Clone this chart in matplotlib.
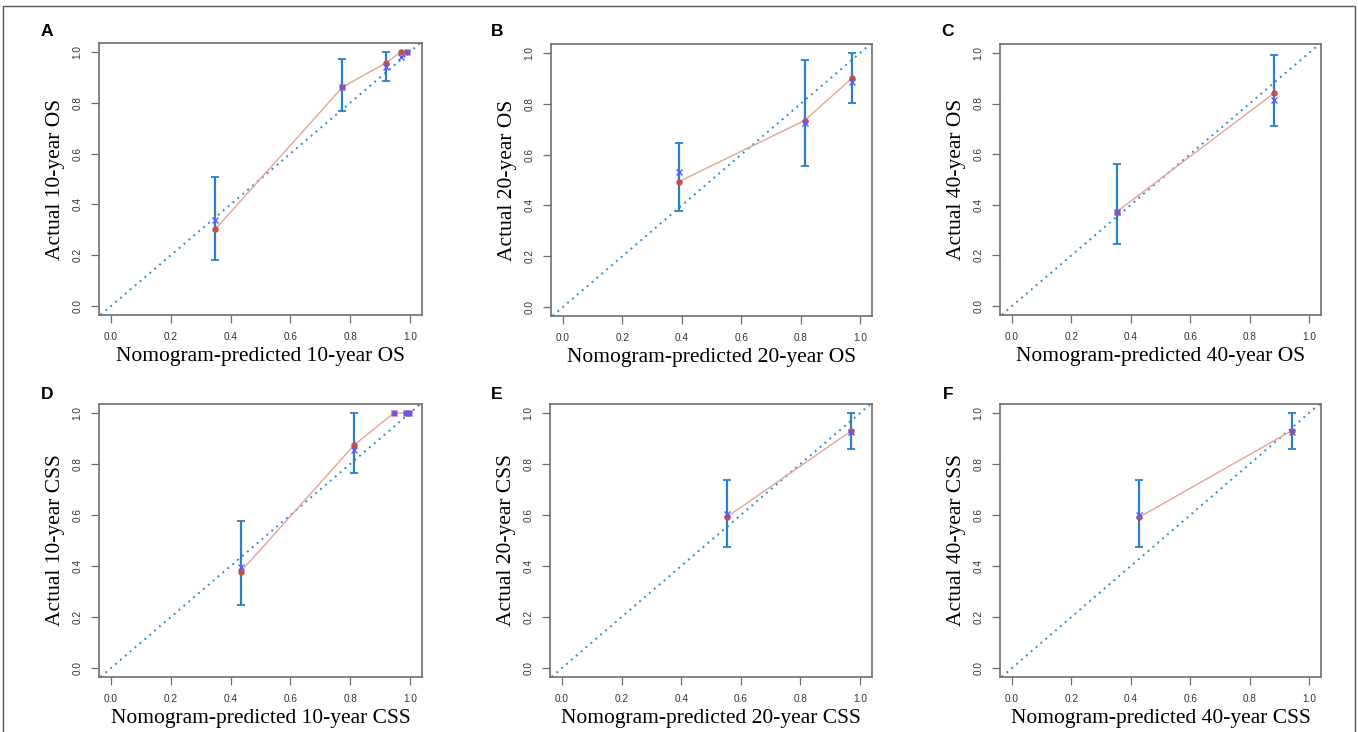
import matplotlib
matplotlib.use("Agg")
import matplotlib.pyplot as plt
from matplotlib.patches import Rectangle
import numpy as np

W, H = 1358, 732

# panel data: predicted, observed (red), bias-corrected (blue x), CI low / high
pred = {
    "A": [0.349, 0.774, 0.921, 0.970, 0.989],
    "B": [0.391, 0.813, 0.974],
    "C": [0.352, 0.881],
    "D": [0.434, 0.813, 0.946, 0.988, 0.998],
    "E": [0.553, 0.971],
    "F": [0.429, 0.941],
}
obs = {
    "A": [0.303, 0.861, 0.958, 1.0, 1.0],
    "B": [0.494, 0.734, 0.902],
    "C": [0.372, 0.840],
    "D": [0.378, 0.874, 1.0, 1.0, 1.0],
    "E": [0.592, 0.930],
    "F": [0.592, 0.930],
}
corr = {
    "A": [0.339, 0.860, 0.940, 0.979, 1.0],
    "B": [0.531, 0.723, 0.886],
    "C": [0.370, 0.815],
    "D": [0.397, 0.855, 1.0, 1.0, 1.0],
    "E": [0.604, 0.926],
    "F": [0.600, 0.926],
}
ci_lo = {
    "A": [0.182, 0.768, 0.886, None, None],
    "B": [0.378, 0.555, 0.804],
    "C": [0.245, 0.710],
    "D": [0.246, 0.764, None, None, None],
    "E": [0.473, 0.857],
    "F": [0.473, 0.857],
}
ci_hi = {
    "A": [0.508, 0.971, 1.0, None, None],
    "B": [0.646, 0.974, 1.0],
    "C": [0.563, 0.992],
    "D": [0.578, 1.0, None, None, None],
    "E": [0.738, 1.0],
    "F": [0.738, 1.0],
}
xlabels = {
    "A": "Nomogram-predicted 10-year OS", "B": "Nomogram-predicted 20-year OS",
    "C": "Nomogram-predicted 40-year OS", "D": "Nomogram-predicted 10-year CSS",
    "E": "Nomogram-predicted 20-year CSS", "F": "Nomogram-predicted 40-year CSS",
}
ylabels = {
    "A": "Actual 10-year OS", "B": "Actual 20-year OS", "C": "Actual 40-year OS",
    "D": "Actual 10-year CSS", "E": "Actual 20-year CSS", "F": "Actual 40-year CSS",
}
ticks = [0.0, 0.2, 0.4, 0.6, 0.8, 1.0]
tick_labels = ["0.0", "0.2", "0.4", "0.6", "0.8", "1.0"]

# axes boxes in pixels: left, top, right, bottom
boxes = {
    "A": (99, 43, 422, 315), "B": (551, 44, 872, 316), "C": (1000, 44, 1321, 315),
    "D": (99, 404, 422, 677), "E": (550, 404, 872, 677), "F": (1000, 404, 1321, 677),
}
letter_pos = {"A": (47, 32), "B": (497, 32), "C": (948, 32),
              "D": (47, 394), "E": (497, 394), "F": (948, 394)}

ERR = "#2a80c8"
DIAG = "#2f8bd0"
RED_LINE = "#e6a396"
RED_DOT = "#c0504d"
BLUE_X = "#5a5aff"
FRAME = "#6e6e6e"

fig = plt.figure(figsize=(W / 100, H / 100), dpi=100)

for key, (l, t, r, b) in boxes.items():
    ax = fig.add_axes([l / W, 1 - b / H, (r - l) / W, (b - t) / H])
    ax.set_xlim(-0.04, 1.04)
    ax.set_ylim(-0.035, 1.035)
    ax.plot([-0.1, 1.1], [-0.1, 1.1], color=DIAG, lw=1.4, linestyle=(0, (1, 2.3)))

    x = np.array(pred[key])
    ax.plot(x, obs[key], color=RED_LINE, lw=1.0, zorder=3)
    for xi, o, lo, hi in zip(x, obs[key], ci_lo[key], ci_hi[key]):
        if lo is None:
            continue
        ax.errorbar([xi], [o], yerr=[[o - lo], [hi - o]], fmt="none",
                    ecolor=ERR, elinewidth=1.6, capsize=3.2, capthick=1.3, zorder=4)
    ax.plot(x, obs[key], "o", color=RED_DOT, ms=3.6, zorder=5)
    ax.plot(x, corr[key], "x", color=BLUE_X, ms=5, mew=1.0, zorder=6)

    ax.set_xticks(ticks)
    ax.set_xticklabels(tick_labels)
    ax.set_yticks(ticks)
    ax.set_yticklabels(tick_labels, rotation=90, va="center")
    ax.tick_params(length=6, width=0.9, color=FRAME, labelsize=7.2, pad=6,
                   labelcolor="#333333")
    for lab in ax.get_xticklabels() + ax.get_yticklabels():
        lab.set_family("Liberation Sans")
    for s in ax.spines.values():
        s.set_color(FRAME)
        s.set_linewidth(1.2)

    ax.set_xlabel(xlabels[key], family="Liberation Serif", fontsize=15.5, labelpad=4)
    ax.set_ylabel(ylabels[key], family="Liberation Serif", fontsize=15.5, labelpad=5)

    lx, ly = letter_pos[key]
    fig.text(lx / W, 1 - ly / H, key, family="Liberation Sans", fontweight="bold",
             fontsize=12.5, ha="center", va="center")

# outer border of the figure panel
fig.patches.append(Rectangle((3 / W, -0.01), (1355 - 3) / W, 1 - 6 / H + 0.01,
                             transform=fig.transFigure, fill=False,
                             edgecolor="#555555", lw=1.0, clip_on=False))

fig.savefig("out.png", dpi=100)
